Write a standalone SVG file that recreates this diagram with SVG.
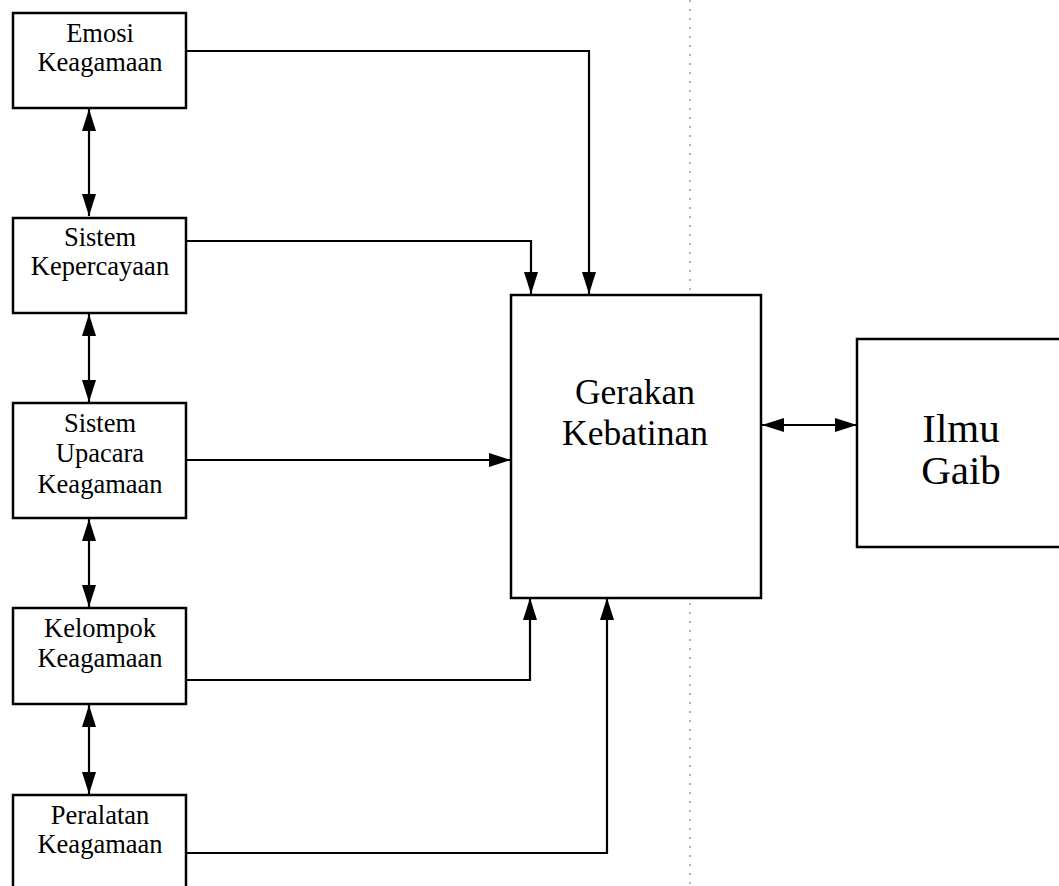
<svg xmlns="http://www.w3.org/2000/svg" width="1059" height="886" viewBox="0 0 1059 886">
  <style>
    .box { fill: #ffffff; stroke: #000000; stroke-width: 2.5; }
    .lbl { font-family: "Liberation Serif", "Times New Roman", serif; fill: #000000; text-anchor: middle; }
    .sm { font-size: 26.5px; }
    .md { font-size: 35.5px; }
    .lg { font-size: 41px; }
    .wire { fill: none; stroke: #000000; stroke-width: 2.2; }
    .fold { stroke: #808080; stroke-width: 1.2; stroke-dasharray: 2 7; fill: none; }
  </style>
  <defs>
    <marker id="head" markerUnits="userSpaceOnUse" markerWidth="24" markerHeight="16" refX="22" refY="8" orient="auto-start-reverse">
      <path d="M0,1 L22,8 L0,15 Z" fill="#000000"/>
    </marker>
  </defs>

  <rect width="1059" height="886" fill="#ffffff"/>

  <!-- faint vertical dotted rule across the page -->
  <line class="fold" x1="690" y1="0" x2="690" y2="886"/>

  <g id="connectors">
    <!-- vertical two-way links between the left column boxes -->
    <line class="wire" x1="89" y1="109" x2="89" y2="216" marker-start="url(#head)" marker-end="url(#head)"/>
    <line class="wire" x1="89" y1="314" x2="89" y2="402" marker-start="url(#head)" marker-end="url(#head)"/>
    <line class="wire" x1="89" y1="519" x2="89" y2="607" marker-start="url(#head)" marker-end="url(#head)"/>
    <line class="wire" x1="89" y1="705" x2="89" y2="794" marker-start="url(#head)" marker-end="url(#head)"/>
    <!-- feeds into Gerakan Kebatinan -->
    <polyline class="wire" points="186,51 589,51 589,294" marker-end="url(#head)"/>
    <polyline class="wire" points="186,241 531,241 531,294" marker-end="url(#head)"/>
    <line class="wire" x1="186" y1="460" x2="511" y2="460" marker-end="url(#head)"/>
    <polyline class="wire" points="186,680 530,680 530,598" marker-end="url(#head)"/>
    <polyline class="wire" points="186,853 607,853 607,598" marker-end="url(#head)"/>
    <!-- two-way link to Ilmu Gaib -->
    <line class="wire" x1="762" y1="425" x2="857" y2="425" marker-start="url(#head)" marker-end="url(#head)"/>
  </g>

  <g id="emosi">
    <rect class="box" x="13" y="13" width="173" height="95"/>
    <text class="lbl sm" x="100" y="42">Emosi</text>
    <text class="lbl sm" x="100" y="71">Keagamaan</text>
  </g>

  <g id="kepercayaan">
    <rect class="box" x="13" y="218" width="173" height="95"/>
    <text class="lbl sm" x="100" y="246">Sistem</text>
    <text class="lbl sm" x="100" y="275">Kepercayaan</text>
  </g>

  <g id="upacara">
    <rect class="box" x="13" y="403" width="173" height="115"/>
    <text class="lbl sm" x="100" y="432">Sistem</text>
    <text class="lbl sm" x="100" y="462">Upacara</text>
    <text class="lbl sm" x="100" y="493">Keagamaan</text>
  </g>

  <g id="kelompok">
    <rect class="box" x="13" y="608" width="173" height="96"/>
    <text class="lbl sm" x="100" y="637">Kelompok</text>
    <text class="lbl sm" x="100" y="667">Keagamaan</text>
  </g>

  <g id="peralatan">
    <rect class="box" x="13" y="795" width="173" height="110"/>
    <text class="lbl sm" x="100" y="824">Peralatan</text>
    <text class="lbl sm" x="100" y="853">Keagamaan</text>
  </g>

  <g id="gerakan">
    <rect class="box" x="511" y="295" width="250" height="303"/>
    <text class="lbl md" x="635" y="404">Gerakan</text>
    <text class="lbl md" x="635" y="445">Kebatinan</text>
  </g>

  <g id="ilmu-gaib">
    <rect class="box" x="857" y="339" width="215" height="208"/>
    <text class="lbl lg" x="961" y="442">Ilmu</text>
    <text class="lbl lg" x="961" y="484">Gaib</text>
  </g>
</svg>
